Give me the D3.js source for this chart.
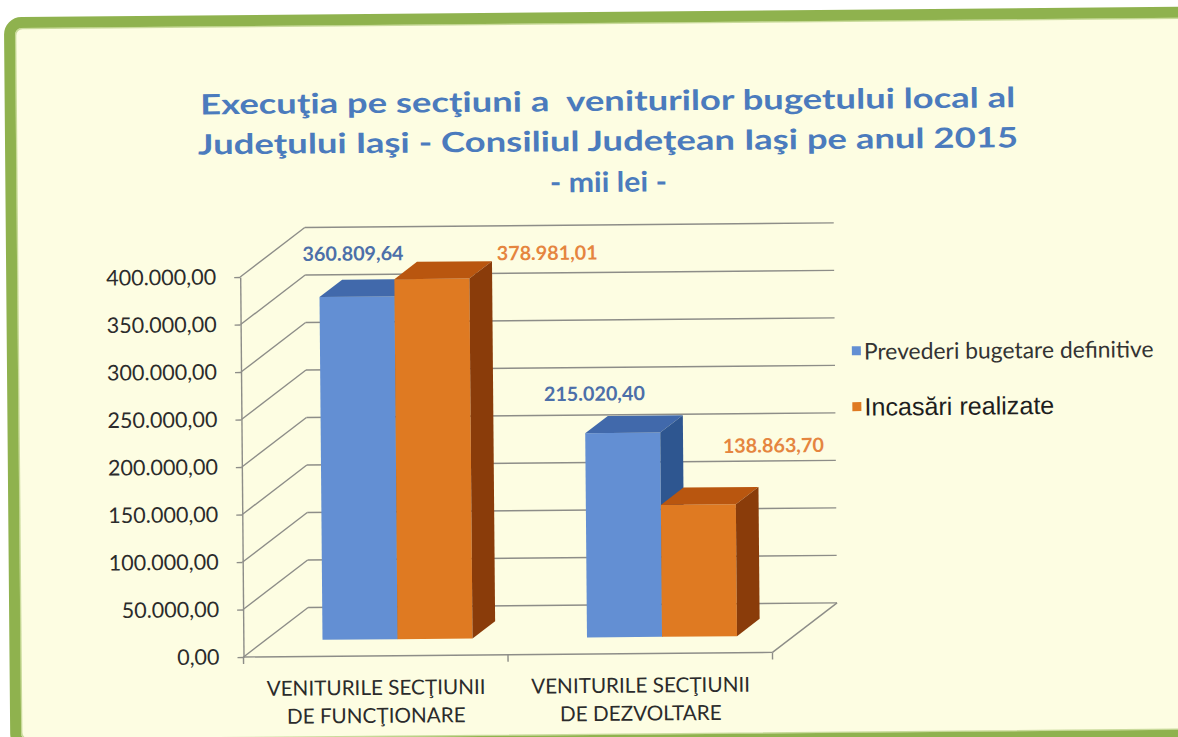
<!DOCTYPE html>
<html><head><meta charset="utf-8">
<script src="https://cdn.jsdelivr.net/npm/d3@7"></script>
<style>body{margin:0;background:#fff}svg{display:block}</style>
</head><body><svg id="chart" width="1178" height="737"></svg>
<script>
// ---- data ----
const titleLines = ["Execuţia pe secţiuni a  veniturilor bugetului local al",
                    "Judeţului Iaşi - Consiliul Judeţean Iaşi pe anul 2015",
                    "- mii lei -"];
const categories = ["VENITURILE SECŢIUNII DE FUNCŢIONARE", "VENITURILE SECŢIUNII DE DEZVOLTARE"];
const categoryLines = [["VENITURILE SECŢIUNII", "DE FUNCŢIONARE"], ["VENITURILE SECŢIUNII", "DE DEZVOLTARE"]];
const seriesNames = ["Prevederi bugetare definitive", "Incasări realizate"];
const prevederiValues = [360809.64, 215020.40];
const incasariValues = [378981.01, 138863.70];
const yTickValues = [0, 50000, 100000, 150000, 200000, 250000, 300000, 350000, 400000];

// ---- layout / style ----
const seriesValues = [prevederiValues, incasariValues];
const colors = {
  front: ["#638fd3", "#df7a22"],
  top:   ["#4169ab", "#b9560f"],
  side:  ["#2e5690", "#8a3c0a"],
  label: ["#4c6fa9", "#e5853f"]
};
// label offsets relative to front-top centre of each bar [series][category]
const labelOffsets = [[[-3.6, -43.7], [-28, -40]], [[115.5, -25.4], [75.5, -59]]];

const ro = d3.formatLocale({decimal: ",", thousands: ".", grouping: [3], currency: ["", ""]});
const fmt = ro.format(",.2f");

const svg = d3.select("#chart");
const root = svg.append("g").attr("transform", "rotate(-0.5 589 368)");

// frame
root.append("rect").attr("x", 12.5).attr("y", 17.5).attr("width", 1220).attr("height", 723)
  .attr("rx", 12).attr("fill", "#fdfde2").attr("stroke", "#8fb24e").attr("stroke-width", 11);
root.append("rect").attr("x", 18.5).attr("y", 23.5).attr("width", 1210).attr("height", 711)
  .attr("rx", 7).attr("fill", "none").attr("stroke", "#a9c56e").attr("stroke-width", 1.5).attr("opacity", 0.6);

function fit(sel, target) {
  const w = sel.node().getComputedTextLength();
  const fs = parseFloat(sel.attr("font-size"));
  const nf = fs * target / w;
  sel.attr("font-size", nf);
  return nf;
}

// title
const titleY = [100, 140, 181];
const titleW = [815, 820, 117];
titleLines.forEach((t, i) => {
  root.append("text").attr("x", 610).attr("y", titleY[i])
    .attr("text-anchor", "middle").attr("dominant-baseline", "central")
    .style("white-space", "pre")
    .attr("font-family", "Lato, 'Open Sans', sans-serif").attr("font-weight", "bold")
    .attr("font-size", 28).attr("fill", "#4b7bbd")
    .attr("textLength", titleW[i]).attr("lengthAdjust", "spacingAndGlyphs")
    .text(t);
});

// scales
const xL = 241, xR = 770, DX = 65, DY = -49;
const y = d3.scaleLinear().domain([0, 400000]).range([654, 274]);
const x0 = d3.scaleBand().domain(categories).range([xL, xR]).paddingInner(0).paddingOuter(0);
const x1 = d3.scaleBand().domain(seriesNames).range([0, x0.bandwidth()]).paddingInner(0).paddingOuter(0.763);
const f0 = 0.337, fd = 0.35;
const bdx = DX * f0, bdy = DY * f0, tdx = DX * fd, tdy = DY * fd;

const gridColor = "#8d8d88";
const grid = root.append("g").attr("stroke", gridColor).attr("stroke-width", 1.4).attr("fill", "none");
yTickValues.forEach(t => {
  grid.append("line").attr("x1", xL).attr("y1", y(t)).attr("x2", xL + DX).attr("y2", y(t) + DY);
  grid.append("line").attr("x1", xL + DX).attr("y1", y(t) + DY).attr("x2", xR + DX).attr("y2", y(t) + DY);
});
// floor
grid.append("line").attr("x1", xL).attr("y1", y(0)).attr("x2", xR).attr("y2", y(0));
grid.append("line").attr("x1", xR).attr("y1", y(0)).attr("x2", xR + DX).attr("y2", y(0) + DY);
// category boundary ticks
[xL, ...categories.slice(1).map(c => x0(c)), xR].forEach(xx => {
  grid.append("line").attr("x1", xx).attr("y1", y(0)).attr("x2", xx).attr("y2", y(0) + 7);
});

// y axis
const yAxis = root.append("g").attr("transform", `translate(${xL},0)`)
  .call(d3.axisLeft(y).tickValues(yTickValues).tickFormat(fmt).tickSize(6).tickSizeOuter(0).tickPadding(18));
yAxis.select(".domain").attr("stroke", gridColor).attr("stroke-width", 1.4);
yAxis.selectAll(".tick line").attr("stroke", gridColor).attr("stroke-width", 1.4);
yAxis.selectAll(".tick text").attr("font-family", "Lato, sans-serif").attr("font-size", 20).attr("fill", "#2b2b2b");
{
  const top = yAxis.selectAll(".tick text").filter(d => d === 400000);
  const fs = fit(top, 110);
  yAxis.selectAll(".tick text").attr("font-size", fs);
}

// bars
categories.forEach((c, ci) => {
  seriesNames.forEach((s, si) => {
    const v = seriesValues[si][ci];
    const bw = x1.bandwidth();
    const bx = x0(c) + x1(s) + bdx;
    const yb = y(0) + bdy, yt = y(v) + bdy;
    const g = root.append("g");
    g.append("rect").attr("x", bx).attr("y", yt).attr("width", bw).attr("height", yb - yt).attr("fill", colors.front[si]);
    g.append("polygon").attr("points", [[bx, yt], [bx + bw, yt], [bx + bw + tdx, yt + tdy], [bx + tdx, yt + tdy]].map(p => p.join(",")).join(" "))
      .attr("fill", colors.top[si]);
    g.append("polygon").attr("points", [[bx + bw, yt], [bx + bw + tdx, yt + tdy], [bx + bw + tdx, yb + tdy], [bx + bw, yb]].map(p => p.join(",")).join(" "))
      .attr("fill", colors.side[si]);
  });
});

// data labels
let labelFs = null;
categories.forEach((c, ci) => {
  seriesNames.forEach((s, si) => {
    const v = seriesValues[si][ci];
    const bw = x1.bandwidth();
    const cx = x0(c) + x1(s) + bdx + bw / 2;
    const yt = y(v) + bdy;
    const off = labelOffsets[si][ci];
    const t = root.append("text").attr("class", "dlabel").attr("x", cx + off[0]).attr("y", yt + off[1])
      .attr("text-anchor", "middle").attr("dominant-baseline", "central")
      .attr("font-family", "Lato, sans-serif").attr("font-weight", "bold")
      .attr("font-size", labelFs || 18).attr("fill", colors.label[si]).text(fmt(v));
    if (!labelFs) labelFs = fit(t, 101);
  });
});

// category labels
let catFs = null;
categories.forEach((c, ci) => {
  const cx = x0(c) + x0.bandwidth() / 2;
  categoryLines[ci].forEach((line, li) => {
    const t = root.append("text").attr("x", cx).attr("y", 685 + li * 28)
      .attr("text-anchor", "middle").attr("dominant-baseline", "central")
      .attr("font-family", "Lato, sans-serif").attr("font-size", catFs || 17).attr("fill", "#2b2b2b").text(line);
    if (!catFs) catFs = fit(t, 219);
  });
});

// legend
const legendY = [353, 409];
const legendW = [290, 190];
const legendFonts = ["Lato, sans-serif", "'Liberation Sans', Arial, sans-serif"];
seriesNames.forEach((s, si) => {
  root.append("rect").attr("x", 852).attr("y", legendY[si] - 4.5).attr("width", 9).attr("height", 9).attr("fill", colors.front[si]);
  const t = root.append("text").attr("x", 864).attr("y", legendY[si]).attr("dominant-baseline", "central")
    .attr("font-family", legendFonts[si]).attr("font-size", 20).attr("fill", si === 0 ? "#333" : "#1e1e1e").text(s);
  fit(t, legendW[si]);
});
</script>
</body></html>
